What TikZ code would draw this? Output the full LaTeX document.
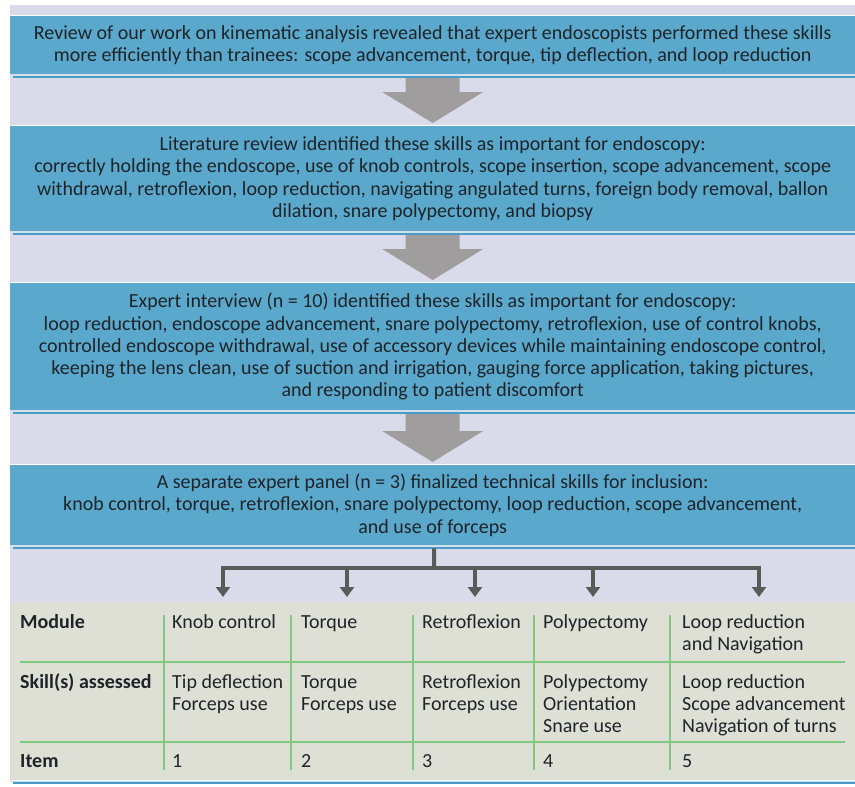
\documentclass[tikz,border=0pt]{standalone}
\usepackage{fontspec}
\setmainfont{Carlito}
\usetikzlibrary{arrows.meta,calc}
\definecolor{panel}{HTML}{D9DBEA}
\definecolor{boxblue}{HTML}{5BA8CD}
\definecolor{rimblue}{HTML}{4B9BC6}
\definecolor{tablebg}{HTML}{DEE0D6}
\definecolor{gridgreen}{HTML}{80C980}
\definecolor{blockgrey}{HTML}{A09D9F}
\definecolor{conngrey}{HTML}{585B58}
\definecolor{ink}{HTML}{1E2428}
\tikzset{
  txt/.style={font=\fontsize{20}{22.2}\selectfont, text=ink},
  stagebox/.style={txt, fill=boxblue, align=center, inner sep=0pt,
    minimum width=845pt, anchor=north west},
  cell/.style={txt, anchor=base west, inner sep=0pt},
  headcell/.style={cell, font=\fontsize{20}{22.2}\selectfont\bfseries},
  conn/.style={draw=conngrey, line width=4pt, line join=miter},
  gridline/.style={draw=gridgreen, line width=1.3pt},
}
% lines stacked in one cell, first baseline at the node's base
\newcommand{\cellstack}[1]{\begin{tabular}[t]{@{}l@{}}#1\end{tabular}}
% grey block arrow from the bottom of one stage to the top of the next
\newcommand{\blockarrow}[2]{%
  \fill[blockgrey] let \p1=(#1.south), \p2=(#2.north) in
    (\x1-27pt,\y1-3pt) -- (\x1+27pt,\y1-3pt) -- (\x1+27pt,\y2+34pt) --
    (\x1+50.5pt,\y2+34pt) -- (\x1,\y2+3pt) -- (\x1-50.5pt,\y2+34pt) --
    (\x1-27pt,\y2+34pt) -- cycle;}
% thin light edge above, light and blue rim below a stage box
\newcommand{\boxrim}[1]{%
  \draw[white, line width=0.9pt] ($(#1.north west)+(0,-0.6)$) -- ($(#1.north east)+(0,-0.6)$);
  \draw[white!70!boxblue, line width=1pt] ($(#1.south west)+(0,1)$) -- ($(#1.south east)+(0,1)$);
  \draw[rimblue, line width=2pt] ($(#1.south west)+(3,3)$) -- ($(#1.south east)+(0,3)$);}
\begin{document}
\begin{tikzpicture}[x=1pt,y=-1pt]
\useasboundingbox (0,0) rectangle (855,787);
\fill[white] (0,0) rectangle (855,787);
\fill[panel] (10,5) rectangle (855,602);
\fill[tablebg] (10,602) rectangle (855,780);
\draw[white!60!boxblue, line width=1pt] (10,781) -- (855,781);
\draw[rimblue, line width=2.2pt] (13,783) -- (855,783);

% stages
\node[stagebox, minimum height=58pt] (box1) at (10,16)
  {Review of our work on kinematic analysis revealed that expert endoscopists performed these skills\\
   more efficiently than trainees: scope advancement, torque, tip deflection, and loop reduction};
\node[stagebox, minimum height=105pt] (box2) at (10,126)
  {Literature review identified these skills as important for endoscopy:\\
   correctly holding the endoscope, use of knob controls, scope insertion, scope advancement, scope\\
   withdrawal, retroflexion, loop reduction, navigating angulated turns, foreign body removal, ballon\\
   dilation, snare polypectomy, and biopsy};
\node[stagebox, minimum height=127pt] (box3) at (10,283)
  {Expert interview (n = 10) identified these skills as important for endoscopy:\\
   loop reduction, endoscope advancement, snare polypectomy, retroflexion, use of control knobs,\\
   controlled endoscope withdrawal, use of accessory devices while maintaining endoscope control,\\
   keeping the lens clean, use of suction and irrigation, gauging force application, taking pictures,\\
   and responding to patient discomfort};
\node[stagebox, minimum height=80pt] (box4) at (10,465)
  {A separate expert panel (n = 3) finalized technical skills for inclusion:\\
   knob control, torque, retroflexion, snare polypectomy, loop reduction, scope advancement,\\
   and use of forceps};

\blockarrow{box1}{box2}
\blockarrow{box2}{box3}
\blockarrow{box3}{box4}
\boxrim{box1}
\boxrim{box2}
\boxrim{box3}
\boxrim{box4}

% branching connector into the modules
\coordinate (hub) at (434,568);
\coordinate (t1) at (223,597);
\coordinate (t2) at (347,597);
\coordinate (t3) at (475,597);
\coordinate (t4) at (593,597);
\coordinate (t5) at (759,597);
\draw[conn] ($(box4.south)+(1.5,3)$) -- (hub);
\draw[conn] ($(t1|-hub)+(0,8)$) -- (t1|-hub) -- (t5|-hub) -- ($(t5|-hub)+(0,8)$);
\foreach \t in {t1,t2,t3,t4,t5}
  \draw[conn, -{Triangle[width=14pt,length=10pt]}] (\t|-hub) -- (\t);

% table grid
\draw[gridline] (20,662) -- (845,662);
\draw[gridline] (20,742) -- (845,742);
\foreach \gx in {164,291,413,534,670}
  \draw[gridline] (\gx,615) -- (\gx,770);

% table cells
\node[headcell] (hmod) at (20,628) {Module};
\node[headcell] (hskill) at (20,688) {Skill(s) assessed};
\node[headcell] (hitem) at (20,767) {Item};

\node[cell] (m1) at (172,628) {Knob control};
\node[cell] (m2) at (301,628) {Torque};
\node[cell] (m3) at (422,628) {Retroflexion};
\node[cell] (m4) at (543,628) {Polypectomy};
\node[cell] (m5) at (682,628) {\cellstack{Loop reduction\\ and Navigation}};

\node[cell] (s1) at (172,688) {\cellstack{Tip deflection\\ Forceps use}};
\node[cell] (s2) at (301,688) {\cellstack{Torque\\ Forceps use}};
\node[cell] (s3) at (422,688) {\cellstack{Retroflexion\\ Forceps use}};
\node[cell] (s4) at (543,688) {\cellstack{Polypectomy\\ Orientation\\ Snare use}};
\node[cell] (s5) at (682,688) {\cellstack{Loop reduction\\ Scope advancement\\ Navigation of turns}};

\node[cell] (i1) at (172,767) {1};
\node[cell] (i2) at (301,767) {2};
\node[cell] (i3) at (422,767) {3};
\node[cell] (i4) at (543,767) {4};
\node[cell] (i5) at (682,767) {5};
\end{tikzpicture}
\end{document}
